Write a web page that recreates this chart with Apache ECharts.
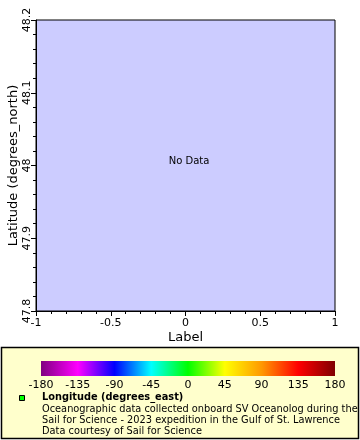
<!DOCTYPE html>
<html><head><meta charset="utf-8">
<script src="https://cdn.jsdelivr.net/npm/echarts@6/dist/echarts.min.js"></script>
<style>html,body{margin:0;padding:0;background:#fff}#c{width:360px;height:440px}</style>
</head><body><div id="c"></div>
<script>
const xRange = [-1, 1];
const xInterval = 0.5;
const yRange = [47.8, 48.2];
const yInterval = 0.1;
const xName = 'Label';
const yName = 'Latitude (degrees_north)';
const noDataText = 'No Data';
const cbRange = [-180, 180];
const cbInterval = 45;
const cbColors = ['#800080', '#ff00ff', '#0000ff', '#00ffff', '#00ff00', '#ffff00', '#ff9900', '#ff0000', '#800000'];
const legendTitle = 'Longitude (degrees_east)';
const legendLines = [
  'Oceanographic data collected onboard SV Oceanolog during the',
  'Sail for Science - 2023 expedition in the Gulf of St. Lawrence',
  'Data courtesy of Sail for Science'
];
const FONT = 'DejaVu Sans';

const chart = echarts.init(document.getElementById('c'), null, {renderer: 'canvas'});
const stops = cbColors.map((c, i) => ({offset: i / (cbColors.length - 1), color: c}));

chart.setOption({
  animation: false,
  backgroundColor: '#fff',
  textStyle: {fontFamily: FONT},
  grid: [
    {left: 36, top: 20, width: 299, height: 291, containLabel: false, outerBoundsMode: 'none', show: true, backgroundColor: '#ccccff', borderColor: '#000', borderWidth: 1},
    {left: 41, top: 361, width: 294, height: 15, containLabel: false, outerBoundsMode: 'none', show: false}
  ],
  xAxis: [
    {gridIndex: 0, type: 'value', min: xRange[0], max: xRange[1], interval: xInterval,
     name: xName, nameLocation: 'middle', nameGap: 20, nameMoveOverlap: false,
     nameTextStyle: {fontFamily: FONT, fontSize: 13, color: '#000'},
     axisLine: {onZero: false, lineStyle: {color: '#000'}},
     axisTick: {show: true, length: 5, inside: false, lineStyle: {color: '#000'}},
     minorTick: {show: true, splitNumber: 5, length: 3, lineStyle: {color: '#000'}},
     splitLine: {show: false},
     axisLabel: {fontFamily: FONT, fontSize: 11, color: '#000', margin: 7}},
    {gridIndex: 1, type: 'value', min: cbRange[0], max: cbRange[1], interval: cbInterval,
     axisLine: {show: false}, axisTick: {show: false}, splitLine: {show: false},
     axisLabel: {fontFamily: FONT, fontSize: 11, color: '#000', margin: 4}}
  ],
  yAxis: [
    {gridIndex: 0, type: 'value', min: yRange[0], max: yRange[1], interval: yInterval,
     name: yName, nameLocation: 'middle', nameGap: 16, nameMoveOverlap: false,
     nameTextStyle: {fontFamily: FONT, fontSize: 13, color: '#000'},
     axisLine: {onZero: false, lineStyle: {color: '#000'}},
     axisTick: {show: true, length: 5, lineStyle: {color: '#000'}},
     minorTick: {show: true, splitNumber: 5, length: 3, lineStyle: {color: '#000'}},
     splitLine: {show: false},
     axisLabel: {fontFamily: FONT, fontSize: 11, color: '#000', rotate: 90, margin: 3,
                 formatter: v => String(Math.round(v * 10) / 10)}},
    {gridIndex: 1, type: 'value', min: 0, max: 1, show: false}
  ],
  series: [
    {type: 'custom', xAxisIndex: 1, yAxisIndex: 1, data: [[cbRange[0], cbRange[1]]],
     renderItem: (params, api) => {
       const p0 = api.coord([api.value(0), 1]);
       const p1 = api.coord([api.value(1), 0]);
       return {type: 'rect', shape: {x: p0[0], y: p0[1], width: p1[0] - p0[0], height: p1[1] - p0[1]},
               style: {fill: new echarts.graphic.LinearGradient(0, 0, 1, 0, stops)}};
     }}
  ],
  graphic: [
    {type: 'rect', z: -10, shape: {x: 1.5, y: 347.5, width: 357, height: 91},
     style: {fill: '#ffffcc', stroke: '#000', lineWidth: 1.5}},
    {type: 'text', style: {text: noDataText, x: 189, y: 161, align: 'center', verticalAlign: 'middle', fontFamily: FONT, fontSize: 10, fill: '#000'}},
    {type: 'rect', shape: {x: 19.5, y: 395.5, width: 5, height: 5}, style: {fill: '#00ff00', stroke: '#000', lineWidth: 1}},
    {type: 'text', style: {text: legendTitle, x: 42, y: 397, verticalAlign: 'middle', fontFamily: FONT, fontWeight: 'bold', fontSize: 9.8, fill: '#000'}},
    ...legendLines.map((t, i) => ({type: 'text', style: {text: t, x: 42, y: 409 + i * 11, verticalAlign: 'middle', fontFamily: FONT, fontSize: 9.8, fill: '#000'}}))
  ]
});
</script></body></html>
